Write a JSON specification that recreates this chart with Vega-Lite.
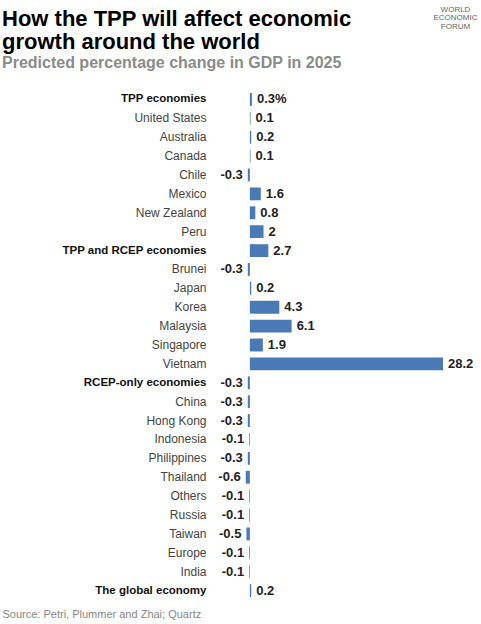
{
  "$schema": "https://vega.github.io/schema/vega-lite/v6.json",
  "width": 200,
  "height": 510,
  "autosize": {"type": "none"},
  "padding": {"left": 243, "top": 90, "right": 38, "bottom": 24},
  "background": "white",
  "config": {
    "font": "Liberation Sans",
    "view": {"stroke": null}
  },
  "title": {
    "text": ["How the TPP will affect economic", "growth around the world"],
    "subtitle": "Predicted percentage change in GDP in 2025",
    "anchor": "start",
    "frame": "group",
    "dx": -241,
    "dy": 87,
    "offset": 20,
    "font": "Liberation Sans",
    "fontSize": 22,
    "fontWeight": "bold",
    "color": "#000000",
    "lineHeight": 23.5,
    "subtitleFont": "Liberation Sans",
    "subtitleFontSize": 16,
    "subtitleFontWeight": "bold",
    "subtitleColor": "#8a8a8a",
    "subtitlePadding": 1
  },
  "data": {
    "values": [
      {"name": "TPP economies", "value": 0.3, "label": "0.3%"},
      {"name": "United States", "value": 0.1, "label": "0.1"},
      {"name": "Australia", "value": 0.2, "label": "0.2"},
      {"name": "Canada", "value": 0.1, "label": "0.1"},
      {"name": "Chile", "value": -0.3, "label": "-0.3"},
      {"name": "Mexico", "value": 1.6, "label": "1.6"},
      {"name": "New Zealand", "value": 0.8, "label": "0.8"},
      {"name": "Peru", "value": 2, "label": "2"},
      {"name": "TPP and RCEP economies", "value": 2.7, "label": "2.7"},
      {"name": "Brunei", "value": -0.3, "label": "-0.3"},
      {"name": "Japan", "value": 0.2, "label": "0.2"},
      {"name": "Korea", "value": 4.3, "label": "4.3"},
      {"name": "Malaysia", "value": 6.1, "label": "6.1"},
      {"name": "Singapore", "value": 1.9, "label": "1.9"},
      {"name": "Vietnam", "value": 28.2, "label": "28.2"},
      {"name": "RCEP-only economies", "value": -0.3, "label": "-0.3"},
      {"name": "China", "value": -0.3, "label": "-0.3"},
      {"name": "Hong Kong", "value": -0.3, "label": "-0.3"},
      {"name": "Indonesia", "value": -0.1, "label": "-0.1"},
      {"name": "Philippines", "value": -0.3, "label": "-0.3"},
      {"name": "Thailand", "value": -0.6, "label": "-0.6"},
      {"name": "Others", "value": -0.1, "label": "-0.1"},
      {"name": "Russia", "value": -0.1, "label": "-0.1"},
      {"name": "Taiwan", "value": -0.5, "label": "-0.5"},
      {"name": "Europe", "value": -0.1, "label": "-0.1"},
      {"name": "India", "value": -0.1, "label": "-0.1"},
      {"name": "The global economy", "value": 0.2, "label": "0.2"}
    ]
  },
  "encoding": {
    "y": {
      "field": "name",
      "type": "nominal",
      "sort": null,
      "scale": {"paddingInner": 0.32, "paddingOuter": 0.16},
      "axis": {
        "title": ["WORLD", "ECONOMIC", "FORUM"],
        "titleAngle": 0,
        "titleX": 212,
        "titleY": -85,
        "titleAlign": "center",
        "titleBaseline": "top",
        "titleFontSize": 8,
        "titleFontWeight": "normal",
        "titleColor": "#666666",
        "titleLineHeight": 8.5,
        "domain": false,
        "ticks": false,
        "grid": false,
        "labelPadding": 37,
        "labelFont": "Liberation Sans",
        "labelFontSize": {"condition": {"test": "indexof(['TPP economies','TPP and RCEP economies','RCEP-only economies','The global economy'], datum.value) >= 0", "value": 11.5}, "value": 12},
        "labelFontWeight": {"condition": {"test": "indexof(['TPP economies','TPP and RCEP economies','RCEP-only economies','The global economy'], datum.value) >= 0", "value": "bold"}, "value": "normal"},
        "labelColor": {"condition": {"test": "indexof(['TPP economies','TPP and RCEP economies','RCEP-only economies','The global economy'], datum.value) >= 0", "value": "#111111"}, "value": "#444444"}
      }
    }
  },
  "layer": [
    {
      "mark": {"type": "bar", "color": "#4a7ab6"},
      "encoding": {
        "x": {
          "field": "value",
          "type": "quantitative",
          "scale": {"domain": [-1, 28.2], "nice": false, "zero": true},
          "axis": {
            "title": "Source: Petri, Plummer and Zhai; Quartz",
            "titleX": -241,
            "titleY": 17,
            "titleAlign": "left",
            "titleAnchor": "start",
            "titleBaseline": "alphabetic",
            "titleFontSize": 11,
            "titleFontWeight": "normal",
            "titleColor": "#888888",
            "labels": false,
            "ticks": false,
            "domain": false,
            "grid": false
          }
        }
      }
    },
    {
      "transform": [{"filter": "datum.value >= 0"}],
      "mark": {"type": "text", "align": "left", "baseline": "middle", "dx": 5, "fontSize": 13, "fontWeight": "bold", "color": "#222222"},
      "encoding": {
        "x": {"field": "value", "type": "quantitative"},
        "text": {"field": "label"}
      }
    },
    {
      "transform": [{"filter": "datum.value < 0"}],
      "mark": {"type": "text", "align": "right", "baseline": "middle", "dx": -5, "fontSize": 13, "fontWeight": "bold", "color": "#222222"},
      "encoding": {
        "x": {"field": "value", "type": "quantitative"},
        "text": {"field": "label"}
      }
    }
  ]
}
